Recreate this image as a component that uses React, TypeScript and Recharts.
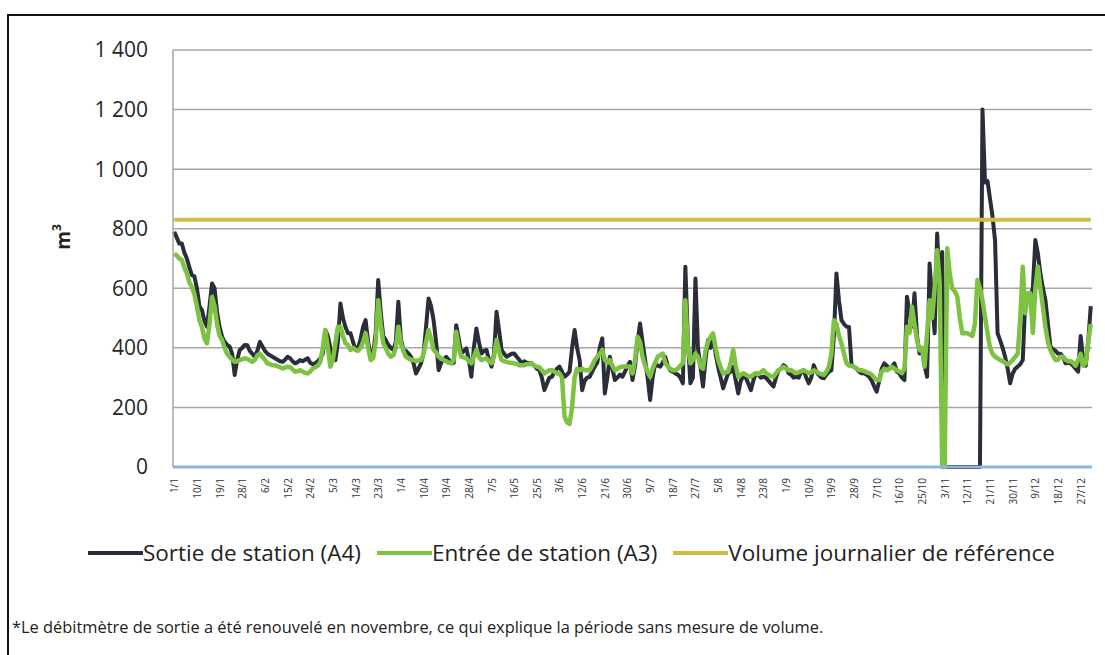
import React from "react";
import { LineChart, Line, XAxis, YAxis, CartesianGrid } from "recharts";

// daily volumes (m3), 1/1 -> 31/12
const SORTIE = [
  790, 770, 750, 750, 720, 700, 670, 644, 640, 600,
  540, 527, 490, 471, 540, 616, 600, 520, 470, 437,
  420, 410, 404, 380, 309, 360, 393, 400, 410, 409,
  390, 380, 370, 390, 420, 405, 390, 381, 375, 370,
  365, 360, 355, 353, 360, 370, 365, 355, 348, 352,
  359, 355, 360, 365, 350, 345, 348, 355, 365, 380,
  460, 440, 400, 370, 359, 420, 549, 500, 470, 449,
  449, 420, 393, 400, 430, 470, 493, 420, 370, 380,
  450, 628, 520, 440, 426, 410, 400, 393, 420, 555,
  430, 393, 390, 381, 370, 350, 314, 330, 348, 380,
  470, 566, 540, 493, 420, 325, 350, 360, 370, 360,
  348, 350, 476, 430, 381, 390, 398, 360, 303, 400,
  465, 420, 381, 390, 393, 360, 337, 380, 521, 460,
  393, 380, 370, 375, 380, 381, 370, 360, 348, 355,
  350, 348, 348, 340, 330, 325, 300, 258, 280, 300,
  303, 320, 330, 337, 320, 303, 310, 320, 400, 460,
  400, 359, 258, 290, 300, 303, 320, 337, 350, 400,
  432, 247, 300, 370, 330, 292, 300, 310, 303, 320,
  340, 353, 292, 340, 420, 482, 420, 359, 300, 225,
  300, 348, 340, 337, 350, 370, 340, 325, 320, 314,
  310, 300, 281, 672, 420, 281, 300, 633, 400, 337,
  270, 360, 426, 400, 437, 380, 336, 300, 264, 290,
  315, 320, 336, 290, 247, 290, 303, 300, 280, 258,
  290, 315, 310, 300, 303, 300, 290, 280, 270, 300,
  325, 330, 342, 335, 315, 310, 300, 303, 300, 320,
  325, 300, 281, 300, 342, 320, 309, 300, 298, 310,
  320, 325, 440, 650, 560, 493, 480, 471, 470, 340,
  336, 330, 320, 315, 315, 310, 303, 290, 270, 253,
  290, 330, 348, 340, 330, 336, 348, 320, 314, 300,
  292, 572, 520, 471, 583, 440, 381, 392, 340, 303,
  683, 560, 449, 784, 605, 722, 0, 0, 0, 0,
  0, 0, 0, 0, 0, 0, 0, 0, 0, 0,
  0, 1200, 955, 960, 900, 840, 760, 449, 426, 400,
  370, 330, 281, 314, 330, 337, 345, 359, 560, 570,
  572, 600, 762, 717, 650, 600, 560, 480, 404, 395,
  390, 381, 380, 370, 348, 350, 348, 340, 330, 320,
  440, 360, 340, 420, 540,
];

const ENTREE = [
  717, 710, 700, 695, 670, 650, 620, 605, 580, 540,
  493, 470, 430, 415, 480, 571, 540, 480, 440, 426,
  400, 380, 370, 360, 353, 355, 359, 362, 365, 363,
  358, 353, 360, 375, 381, 370, 360, 348, 345, 342,
  342, 338, 335, 331, 333, 337, 335, 328, 320, 322,
  325, 320, 316, 314, 320, 331, 335, 340, 353, 400,
  460, 400, 337, 360, 415, 471, 471, 440, 415, 410,
  393, 400, 393, 390, 400, 420, 449, 400, 359, 365,
  420, 560, 480, 415, 400, 380, 370, 375, 400, 471,
  415, 390, 370, 365, 360, 359, 355, 359, 359, 380,
  420, 460, 430, 393, 385, 370, 365, 359, 355, 350,
  348, 360, 454, 400, 370, 368, 365, 355, 348, 370,
  393, 370, 359, 362, 365, 355, 348, 370, 426, 390,
  359, 355, 353, 350, 350, 348, 346, 342, 342, 342,
  345, 345, 348, 340, 337, 335, 325, 314, 320, 325,
  325, 320, 314, 314, 300, 170, 150, 145, 200, 300,
  330, 325, 330, 325, 325, 325, 340, 359, 370, 380,
  393, 360, 350, 359, 340, 325, 330, 335, 337, 337,
  337, 337, 314, 360, 437, 420, 370, 340, 320, 303,
  330, 350, 370, 375, 381, 350, 337, 330, 325, 325,
  330, 340, 348, 560, 400, 348, 360, 381, 370, 337,
  330, 390, 420, 437, 449, 400, 360, 335, 314, 318,
  320, 350, 393, 340, 303, 310, 315, 310, 305, 303,
  310, 315, 312, 318, 325, 315, 310, 305, 303, 315,
  325, 330, 336, 330, 325, 325, 320, 315, 318, 322,
  325, 320, 315, 318, 325, 320, 315, 312, 309, 320,
  336, 380, 493, 480, 440, 415, 380, 348, 340, 340,
  336, 332, 325, 325, 322, 318, 315, 310, 300, 292,
  292, 320, 330, 325, 330, 336, 330, 325, 320, 315,
  330, 471, 450, 538, 480, 425, 392, 400, 337, 450,
  560, 500, 600, 728, 620, 0, 0, 734, 650, 600,
  590, 572, 500, 449, 450, 449, 445, 440, 480, 628,
  600, 560, 504, 450, 400, 381, 370, 365, 359, 355,
  350, 345, 350, 359, 370, 380, 500, 672, 516, 583,
  583, 450, 600, 672, 600, 538, 470, 420, 392, 375,
  359, 360, 370, 370, 360, 355, 355, 350, 340, 360,
  380, 340, 350, 420, 480,
];

const REFERENCE_VOLUME = 830;

const TICK_LABELS = [
  "1/1", "10/1", "19/1", "28/1", "6/2", "15/2", "24/2", "5/3", "14/3", "23/3",
  "1/4", "10/4", "19/4", "28/4", "7/5", "16/5", "25/5", "3/6", "12/6", "21/6",
  "30/6", "9/7", "18/7", "27/7", "5/8", "14/8", "23/8", "1/9", "10/9", "19/9",
  "28/9", "7/10", "16/10", "25/10", "3/11", "12/11", "21/11", "30/11", "9/12", "18/12",
  "27/12",
];
const TICK_STEP = 9;
const Y_TICKS = [0, 200, 400, 600, 800, 1000, 1200, 1400];

const SERIES = [
  { key: "sortie", name: "Sortie de station (A4)", color: "#2a2e3a", width: 4 },
  { key: "entree", name: "Entrée de station (A3)", color: "#7dc242", width: 4.5 },
  { key: "reference", name: "Volume journalier de référence", color: "#cdbd45", width: 4 },
];

const FONT = "'Open Sans', sans-serif";

const rows = SORTIE.map((s, i) => ({
  day: i,
  sortie: s,
  entree: ENTREE[i],
  reference: REFERENCE_VOLUME,
}));

const xTicks = TICK_LABELS.map((_, i) => i * TICK_STEP);

function fmtY(v: number) {
  if (v < 1000) return String(v);
  return `${Math.floor(v / 1000)} ${String(v % 1000).padStart(3, "0")}`;
}

function XTick({ x, y, payload }: any) {
  const label = TICK_LABELS[Math.round(payload.value / TICK_STEP)];
  return (
    <text
      x={x}
      y={y}
      transform={`rotate(-90, ${x}, ${y})`}
      textAnchor="end"
      dominantBaseline="central"
      fontSize={10}
      fontFamily={FONT}
      fill="#333"
    >
      {label}
    </text>
  );
}

function UnitLabel({ viewBox }: any) {
  const cx = viewBox.x + 63;
  const cy = 237;
  return (
    <text
      x={cx}
      y={cy}
      transform={`rotate(-90, ${cx}, ${cy})`}
      textAnchor="middle"
      dominantBaseline="central"
      fontSize={19}
      fontWeight="bold"
      fontFamily={FONT}
      fill="#222"
    >
      m<tspan dy={-7} fontSize={12}>3</tspan>
    </text>
  );
}

export default function App() {
  return (
    <div
      style={{
        position: "absolute",
        left: 0,
        top: 0,
        width: 1105,
        height: 655,
        overflow: "hidden",
        background: "#fff",
        fontFamily: FONT,
      }}
    >
      <div
        style={{
          position: "absolute",
          left: 7,
          top: 14,
          width: 1200,
          height: 700,
          borderLeft: "2px solid #111",
          borderTop: "2px solid #111",
        }}
      />
      <LineChart
        width={1105}
        height={520}
        data={rows}
        margin={{ top: 50, right: 13, left: 0, bottom: 0 }}
        style={{ position: "absolute", left: 0, top: 0 }}
      >
        <CartesianGrid vertical={false} stroke="#a6a6a6" strokeWidth={1.5} />
        <XAxis
          dataKey="day"
          type="number"
          domain={[-0.5, 364.5]}
          ticks={xTicks}
          interval={0}
          height={53}
          tickLine={false}
          tickSize={0}
          tickMargin={11}
          axisLine={{ stroke: "#8db4e2", strokeWidth: 3 }}
          tick={<XTick />}
        />
        <YAxis
          domain={[0, 1400]}
          ticks={Y_TICKS}
          width={173}
          tickLine={false}
          tickSize={0}
          tickMargin={25}
          tickFormatter={fmtY}
          axisLine={{ stroke: "#a6a6a6", strokeWidth: 1.5 }}
          tick={{ fontSize: 21, fill: "#262626", fontFamily: FONT }}
          label={<UnitLabel />}
        />
        {SERIES.map((s) => (
          <Line
            key={s.key}
            dataKey={s.key}
            name={s.name}
            type="linear"
            stroke={s.color}
            strokeWidth={s.width}
            strokeLinejoin="round"
            dot={false}
            isAnimationActive={false}
          />
        ))}
      </LineChart>
      <div
        style={{
          position: "absolute",
          left: 88,
          top: 536,
          display: "flex",
          alignItems: "center",
          fontSize: 22.5,
          lineHeight: "34px",
          color: "#222",
          whiteSpace: "nowrap",
        }}
      >
        {SERIES.map((s) => (
          <div key={s.key} style={{ display: "flex", alignItems: "center", marginRight: 16 }}>
            <span style={{ display: "inline-block", width: 55, height: 4, background: s.color }} />
            <span>{s.name}</span>
          </div>
        ))}
      </div>
      <div
        style={{
          position: "absolute",
          left: 12,
          top: 616,
          fontSize: 16.4,
          lineHeight: "22px",
          color: "#222",
          whiteSpace: "nowrap",
        }}
      >
        *Le débitmètre de sortie a été renouvelé en novembre, ce qui explique la période sans mesure de volume.
      </div>
    </div>
  );
}
